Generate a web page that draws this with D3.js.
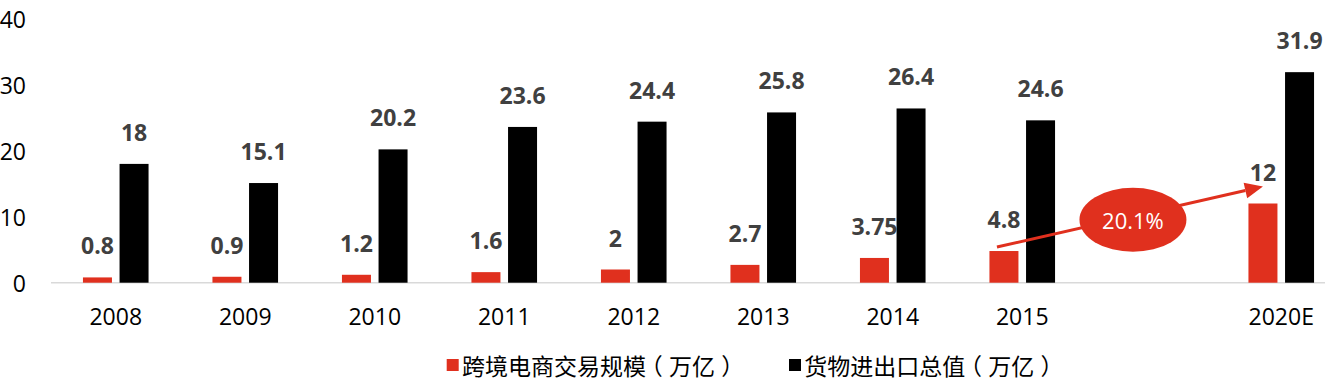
<!DOCTYPE html>
<html><head><meta charset="utf-8">
<script src="https://cdn.jsdelivr.net/npm/d3@7"></script>
<style>html,body{margin:0;padding:0;background:#fff;overflow:hidden}</style>
</head><body><svg id="c" width="1325" height="385"></svg>
<script>
const categories = ["2008","2009","2010","2011","2012","2013","2014","2015","","2020E"];
const crossBorder = [0.8,0.9,1.2,1.6,2,2.7,3.75,4.8,null,12];
const tradeTotal = [18,15.1,20.2,23.6,24.4,25.8,26.4,24.6,null,31.9];
const yTicks = [0,10,20,30,40];
const seriesNames = ["跨境电商交易规模（万亿）","货物进出口总值（万亿）"];
const colors = ["#e0301e","#000000"];
const growthLabel = "20.1%";

const svg = d3.select("#c");
const numFont = "'Open Sans', 'Noto Sans', sans-serif";
const cjkFont = "'Noto Sans CJK SC', sans-serif";
const fs = 23;

const x = d3.scaleBand().domain(d3.range(categories.length)).range([51, 51 + 129.5*categories.length]).padding(0);
const y = d3.scaleLinear().domain([0,40]).range([282.7, 18.7]);
const bw = 29, gap = 7.6;
const cx = i => x(i) + x.bandwidth()/2;

// y tick labels
svg.append("g").selectAll("text").data(yTicks).join("text")
  .attr("x", 26).attr("y", d => y(d)).attr("text-anchor","end").attr("dominant-baseline","central")
  .attr("font-family", numFont).attr("font-size", fs).attr("fill","#000").text(d => d);

// baseline axis
svg.append("line").attr("x1", x.range()[0]).attr("x2", x.range()[1]).attr("y1", y(0)).attr("y2", y(0))
  .attr("stroke","#d9d9d9").attr("stroke-width",1.5);

// x tick labels
svg.append("g").selectAll("text").data(categories).join("text")
  .attr("x", (d,i) => cx(i)).attr("y", 316).attr("text-anchor","middle").attr("dominant-baseline","central")
  .attr("font-family", numFont).attr("font-size", fs).attr("fill","#000").text(d => d);

const series = [crossBorder, tradeTotal];
const offs = [-gap/2 - bw, gap/2];
series.forEach((vals, s) => {
  const data = vals.map((v,i) => ({v,i})).filter(d => d.v != null);
  svg.append("g").selectAll("rect").data(data).join("rect")
    .attr("x", d => cx(d.i) + offs[s]).attr("width", bw)
    .attr("y", d => y(d.v)).attr("height", d => y(0) - y(d.v)).attr("fill", colors[s]);
  svg.append("g").selectAll("text").data(data).join("text")
    .attr("x", d => cx(d.i) + offs[s] + bw/2).attr("y", d => y(d.v) - 32)
    .attr("text-anchor","middle").attr("dominant-baseline","central")
    .attr("font-family", numFont).attr("font-weight","bold").attr("font-size", fs).attr("fill","#404040")
    .text(d => d.v);
});

// growth arrow annotation
const i0 = 7, i1 = 9;
const sx = cx(i0) + offs[0] + bw/2 - 7, sy = y(crossBorder[i0]) - 4;
const ex = cx(i1) + offs[0] + bw/2, ey = y(crossBorder[i1]) - 17;
const ang = Math.atan2(ey - sy, ex - sx);
const hl = 18, hw = 8;
const bx = ex - hl*Math.cos(ang), by = ey - hl*Math.sin(ang);
svg.append("line").attr("x1", sx).attr("y1", sy).attr("x2", bx).attr("y2", by)
  .attr("stroke", colors[0]).attr("stroke-width", 3);
svg.append("path").attr("d", `M${ex},${ey} L${bx - hw*Math.sin(ang)},${by + hw*Math.cos(ang)} L${bx + hw*Math.sin(ang)},${by - hw*Math.cos(ang)} Z`)
  .attr("fill", colors[0]);
const mx = (sx+ex)/2 + 3, my = (sy+ey)/2 + 3;
svg.append("ellipse").attr("cx", mx).attr("cy", my).attr("rx", 53.5).attr("ry", 32).attr("fill", colors[0]);
svg.append("text").attr("x", mx).attr("y", my).attr("text-anchor","middle").attr("dominant-baseline","central")
  .attr("font-family", numFont).attr("font-size", 22).attr("fill","#fff").text(growthLabel);

// legend (each glyph centred in a full-width cell, as in the original)
const legX = [446.7, 789];
const punctShift = {"（": -0.27, "）": 0.27};
seriesNames.forEach((n, s) => {
  svg.append("rect").attr("x", legX[s]).attr("y", 359).attr("width", 12).attr("height", 12).attr("fill", colors[s]);
  const start = legX[s] + 15.3;
  const xs = Array.from(n).map((c, k) => (start + (k + 0.5 + (punctShift[c] || 0)) * fs).toFixed(1)).join(" ");
  svg.append("text").attr("x", xs).attr("y", 365).attr("text-anchor","middle").attr("dominant-baseline","central")
    .attr("font-family", cjkFont).attr("font-size", fs).attr("fill","#000").text(n);
});
</script>
</body></html>
